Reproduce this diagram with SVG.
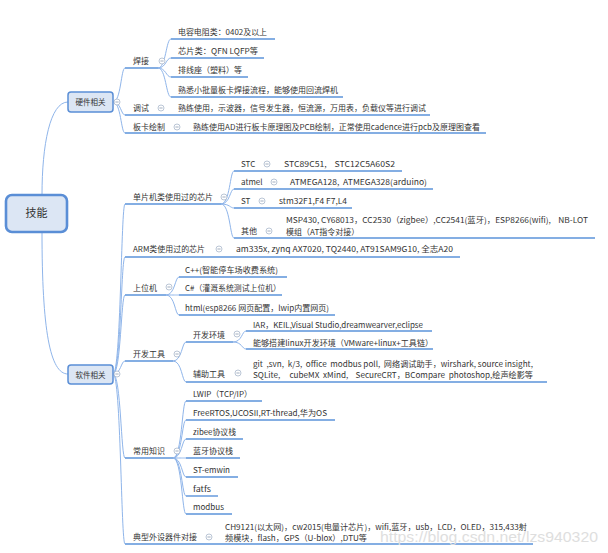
<svg xmlns="http://www.w3.org/2000/svg" xmlns:xlink="http://www.w3.org/1999/xlink" width="608" height="553" viewBox="0 0 608 553">
<style>
.t{font-family:"Noto Sans CJK SC","Liberation Sans",sans-serif;font-size:8px;fill:#333;white-space:pre}
.n{font-family:"Noto Sans CJK SC","Liberation Sans",sans-serif;font-size:7.5px;fill:#333;text-anchor:middle}
.r{font-family:"Noto Sans CJK SC","Liberation Sans",sans-serif;font-size:11px;fill:#333;text-anchor:middle}
.u{fill:none;stroke:#5b93da;stroke-width:1.4}
.c{fill:none;stroke:#8fb5ea;stroke-width:1}
.box{fill:#dce6f4;stroke:#5a8ed6}
.wm{font-family:"Liberation Sans",sans-serif;font-size:15px;fill:#dedede}
</style>
<defs>
<g id="col"><circle r="3" fill="#fff" stroke="#a9b8cc" stroke-width="0.8"/><path d="M-1.6,0H1.6" stroke="#8c9bb0" stroke-width="0.8"/></g>
</defs>
<rect width="608" height="553" fill="#fff"/>
<g id="connectors">
<path class="c" d="M42,195 C42,145 50,102 68,102"/>
<path class="c" d="M42,232 C42,330 50,374 68,374"/>
<path class="c" d="M113,102 C121,102 121,68 125,68 M113,102 C121,102 121,115 125,115 M113,102 C121,102 121,133 125,133"/>
<path class="c" d="M158,68 C166,68 166,39 171,39 M158,68 C166,68 166,58 171,58 M158,68 C166,68 166,77 171,77 M158,68 C166,68 166,97 171,97"/>
<path class="c" d="M113,374 C121,374 121,204 125,204 M113,374 C121,374 121,257 125,257 M113,374 C121,374 121,295 125,295 M113,374 C121,374 121,361 125,361 M113,374 C121,374 121,458 125,458 M113,374 C121,374 121,544 125,544"/>
<path class="c" d="M221,204 C230,204 230,171 234,171 M221,204 C230,204 230,189 234,189 M221,204 C230,204 230,208 234,208 M221,204 C230,204 230,238 234,238"/>
<path class="c" d="M166,295 C175,295 175,277 179,277 M166,295 C175,295 175,295 179,295 M166,295 C175,295 175,315 179,315"/>
<path class="c" d="M173,361 C182,361 182,342 186,342 M173,361 C182,361 182,382 186,382"/>
<path class="c" d="M233,342 C242,342 242,331 246,331 M233,342 C242,342 242,349 246,349"/>
<path class="c" d="M173,458 C182,458 182,401 186,401 M173,458 C182,458 182,420 186,420 M173,458 C182,458 182,439 186,439 M173,458 C182,458 182,458 186,458 M173,458 C182,458 182,477 186,477 M173,458 C182,458 182,496 186,496 M173,458 C182,458 182,514 186,514"/>
</g>
<g id="root"><rect class="box" x="6" y="195" width="61" height="37" rx="6" stroke-width="2.6"/><text class="r" x="36.5" y="217">技能</text></g>
<g id="hw"><rect class="box" x="68" y="92" width="45" height="20" rx="3" stroke-width="1.5"/><text class="n" x="90.5" y="105">硬件相关</text><use xlink:href="#col" x="117" y="102"/></g>
<g id="sw"><rect class="box" x="68" y="365" width="45" height="19" rx="3" stroke-width="1.5"/><text class="n" x="90.5" y="377.5">软件相关</text><use xlink:href="#col" x="117" y="374"/></g>

<g id="hanjie"><path class="u" d="M125,68H158"/><text class="t" x="133" y="64">焊接</text><use xlink:href="#col" x="162" y="61"/></g>
<g id="hj1"><path class="u" d="M171,39H275"/><text class="t" x="178" y="35" textLength="89" lengthAdjust="spacingAndGlyphs">电容电阻类：0402及以上</text></g>
<g id="hj2"><path class="u" d="M171,58H264"/><text class="t" x="178" y="54" textLength="80" lengthAdjust="spacingAndGlyphs">芯片类：QFN LQFP等</text></g>
<g id="hj3"><path class="u" d="M171,77H248"/><text class="t" x="178" y="73">排线座（塑料）等</text></g>
<g id="hj4"><path class="u" d="M171,97H343"/><text class="t" x="178" y="93">熟悉小批量板卡焊接流程，能够使用回流焊机</text></g>
<g id="tiaoshi"><path class="u" d="M125,115H430"/><text class="t" x="133" y="111">调试</text><use xlink:href="#col" x="161" y="108"/><text class="t" x="178" y="111">熟练使用，示波器，信号发生器，恒流源，万用表，负载仪等进行调试</text></g>
<g id="banka"><path class="u" d="M125,133H486"/><text class="t" x="133" y="130">板卡绘制</text><use xlink:href="#col" x="177" y="127"/><text class="t" x="193" y="130" textLength="287" lengthAdjust="spacingAndGlyphs">熟练使用AD进行板卡原理图及PCB绘制，正常使用cadence进行pcb及原理图查看</text></g>

<g id="mcu"><path class="u" d="M125,204H221"/><text class="t" x="133" y="200">单片机类使用过的芯片</text><use xlink:href="#col" x="224" y="197"/></g>
<g id="stc"><path class="u" d="M234,171H402"/><text class="t" x="241" y="167">STC</text><use xlink:href="#col" x="267" y="164"/><text class="t" x="284" y="167" xml:space="preserve" textLength="111" lengthAdjust="spacingAndGlyphs">STC89C51,    STC12C5A60S2</text></g>
<g id="atmel"><path class="u" d="M234,189H433"/><text class="t" x="241" y="185">atmel</text><use xlink:href="#col" x="274" y="182"/><text class="t" x="290" y="185" xml:space="preserve" textLength="137" lengthAdjust="spacingAndGlyphs">ATMEGA128,  ATMEGA328(arduino)</text></g>
<g id="st"><path class="u" d="M234,208H352"/><text class="t" x="241" y="204">ST</text><use xlink:href="#col" x="262" y="201"/><text class="t" x="279" y="204" textLength="68" lengthAdjust="spacingAndGlyphs">stm32F1,F4 F7,L4</text></g>
<g id="other"><path class="u" d="M234,238H595"/><text class="t" x="241" y="234">其他</text><use xlink:href="#col" x="269" y="231"/><text class="t" x="286" y="223" xml:space="preserve" textLength="302" lengthAdjust="spacingAndGlyphs">MSP430, CY68013，CC2530（zigbee）,CC2541(蓝牙)，ESP8266(wifi),    NB-LOT</text><text class="t" x="286" y="235">模组（AT指令对接）</text></g>
<g id="arm"><path class="u" d="M125,257H460"/><text class="t" x="133" y="252" textLength="72" lengthAdjust="spacingAndGlyphs">ARM类使用过的芯片</text><use xlink:href="#col" x="219" y="249"/><text class="t" x="236" y="252" textLength="217" lengthAdjust="spacingAndGlyphs">am335x, zynq AX7020, TQ2440, AT91SAM9G10, 全志A20</text></g>

<g id="pc"><path class="u" d="M125,295H166"/><text class="t" x="133" y="291">上位机</text><use xlink:href="#col" x="169" y="287"/></g>
<g id="pc1"><path class="u" d="M179,277H287"/><text class="t" x="185" y="273" textLength="93" lengthAdjust="spacingAndGlyphs">C++(智能停车场收费系统)</text></g>
<g id="pc2"><path class="u" d="M179,295H282"/><text class="t" x="185" y="291" textLength="96" lengthAdjust="spacingAndGlyphs">C#（灌溉系统测试上位机）</text></g>
<g id="pc3"><path class="u" d="M179,315H335"/><text class="t" x="185" y="311" textLength="144" lengthAdjust="spacingAndGlyphs">html(esp8266 网页配置，lwip内置网页)</text></g>

<g id="tools"><path class="u" d="M125,361H173"/><text class="t" x="133" y="357">开发工具</text><use xlink:href="#col" x="177" y="354"/></g>
<g id="env"><path class="u" d="M186,342H233"/><text class="t" x="193" y="338">开发环境</text><use xlink:href="#col" x="237" y="334"/></g>
<g id="env1"><path class="u" d="M246,331H432"/><text class="t" x="253" y="328" textLength="170" lengthAdjust="spacingAndGlyphs">IAR，KEIL,Visual Studio,dreamwearver,eclipse</text></g>
<g id="env2"><path class="u" d="M246,349H433"/><text class="t" x="253" y="346" textLength="180" lengthAdjust="spacingAndGlyphs">能够搭建linux开发环境（VMware+linux+工具链）</text></g>
<g id="aux"><path class="u" d="M186,382H547"/><text class="t" x="193" y="377">辅助工具</text><use xlink:href="#col" x="238" y="373"/><text class="t" x="253" y="367" xml:space="preserve" textLength="280" lengthAdjust="spacingAndGlyphs">git  ,svn,  k/3,  office  modbus poll,  网络调试助手，wirshark, source insight,</text><text class="t" x="253" y="378" xml:space="preserve" textLength="280" lengthAdjust="spacingAndGlyphs">SQLite,     cubeMX  xMind,    SecureCRT，BCompare  photoshop,绘声绘影等</text></g>

<g id="know"><path class="u" d="M125,458H173"/><text class="t" x="133" y="454">常用知识</text><use xlink:href="#col" x="177" y="451"/></g>
<g id="k1"><path class="u" d="M186,401H262"/><text class="t" x="193" y="397" textLength="59" lengthAdjust="spacingAndGlyphs">LWIP（TCP/IP）</text></g>
<g id="k2"><path class="u" d="M186,420H335"/><text class="t" x="193" y="416" textLength="134" lengthAdjust="spacingAndGlyphs">FreeRTOS,UCOSII,RT-thread,华为OS</text></g>
<g id="k3"><path class="u" d="M186,439H243"/><text class="t" x="193" y="435" textLength="43" lengthAdjust="spacingAndGlyphs">zibee协议栈</text></g>
<g id="k4"><path class="u" d="M186,458H240"/><text class="t" x="193" y="454">蓝牙协议栈</text></g>
<g id="k5"><path class="u" d="M186,477H238"/><text class="t" x="193" y="473" textLength="37" lengthAdjust="spacingAndGlyphs">ST-emwin</text></g>
<g id="k6"><path class="u" d="M186,496H218"/><text class="t" x="193" y="492" textLength="18" lengthAdjust="spacingAndGlyphs">fatfs</text></g>
<g id="k7"><path class="u" d="M186,514H232"/><text class="t" x="193" y="510" textLength="31" lengthAdjust="spacingAndGlyphs">modbus</text></g>

<g id="periph"><path class="u" d="M125,544H533"/><text class="t" x="133" y="540">典型外设器件对接</text><use xlink:href="#col" x="209" y="537"/><text class="t" x="225" y="530" textLength="302" lengthAdjust="spacingAndGlyphs">CH9121(以太网)，cw2015(电量计芯片)，wifi,蓝牙，usb，LCD，OLED，315,433射</text><text class="t" x="225" y="541" textLength="142" lengthAdjust="spacingAndGlyphs">频模块，flash，GPS（U-blox）,DTU等</text></g>

<text class="wm" x="380" y="542" textLength="218" lengthAdjust="spacingAndGlyphs">https://blog.csdn.net/lzs940320</text>
</svg>
